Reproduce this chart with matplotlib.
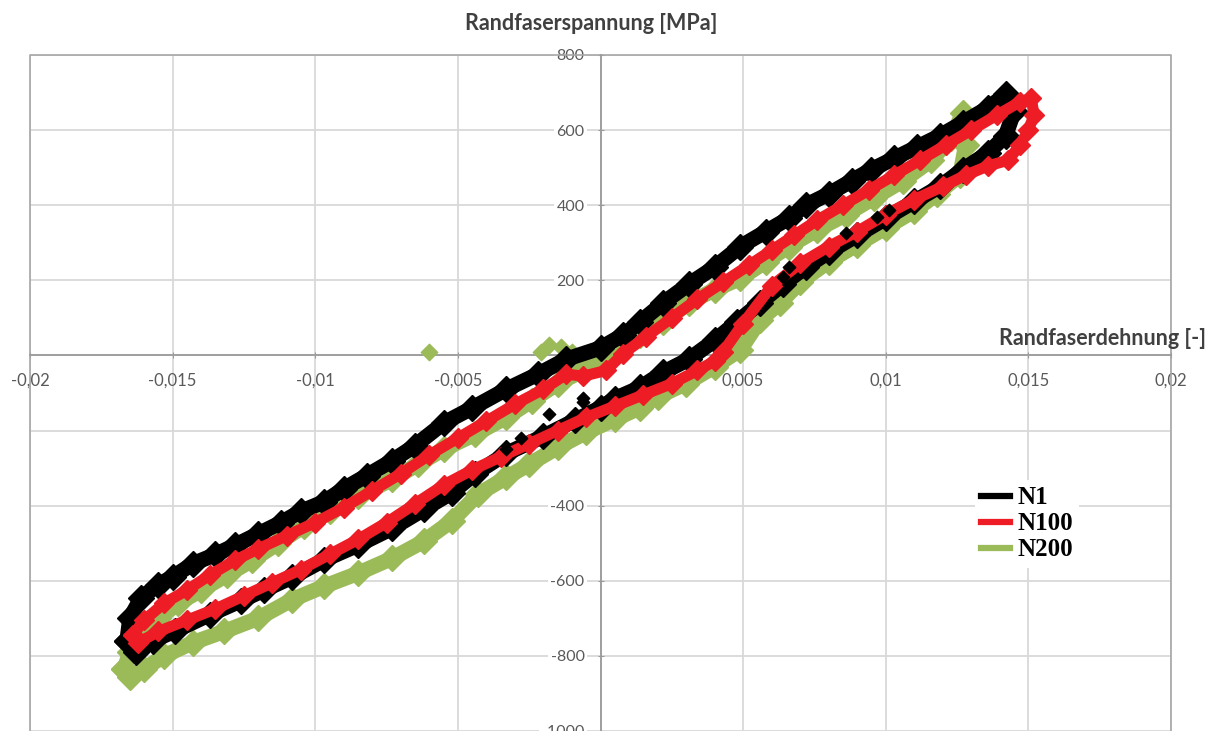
import matplotlib
matplotlib.use("Agg")
import matplotlib.pyplot as plt
from matplotlib.lines import Line2D
from matplotlib.ticker import MultipleLocator, FuncFormatter

plt.rcParams['font.family'] = ['Lato', 'DejaVu Sans']

# ---- data: outer-fibre strain [-] and stress [MPa] around each hysteresis loop ----
series_names = ["N1", "N100", "N200"]
series_colors = ["#000000", "#ee1c25", "#9bbb59"]

n1_strain = [-0.0166, -0.0165, -0.0161, -0.0155, -0.0150, -0.0143, -0.0135, -0.0128, -0.0120,
             -0.0112, -0.0105, -0.0097, -0.0090, -0.0082, -0.0073, -0.0065, -0.0055, -0.0045,
             -0.0033, -0.0022, -0.0012, 0.0000, 0.0008, 0.0014, 0.0022, 0.0031, 0.0040, 0.0049,
             0.0058, 0.0066, 0.0072, 0.0080, 0.0088, 0.0095, 0.0103, 0.0111, 0.0119, 0.0127,
             0.0136, 0.0142, 0.0145, 0.0142, 0.0136, 0.0127, 0.0119, 0.0110, 0.0100, 0.0090,
             0.0080, 0.0072, 0.0064, 0.0056, 0.0048, 0.0040, 0.0031, 0.0022, 0.0014, 0.0005,
             0.0000, -0.0009, -0.0020, -0.0033, -0.0044, -0.0052, -0.0062, -0.0073, -0.0085,
             -0.0097, -0.0108, -0.0118, -0.0126, -0.0137, -0.0149, -0.0157, -0.0163, -0.0166]
n1_stress = [-760, -700, -645, -610, -590, -555, -530, -505, -475,
             -445, -415, -390, -355, -320, -280, -240, -180, -140,
             -90, -50, -10, 20, 55, 90, 140, 190, 235, 290,
             330, 365, 400, 430, 465, 495, 525, 555, 585, 620,
             660, 695, 650, 585, 540, 495, 450, 410, 365, 320,
             275, 235, 190, 140, 90, 40, -10, -45, -85, -115,
             -139, -173, -215, -261, -315, -365, -410, -460, -505,
             -545, -590, -625, -653, -690, -733, -760, -790, -760]

n100_strain = [-0.0164, -0.0160, -0.0153, -0.0145, -0.0137, -0.0128, -0.0120, -0.0110, -0.0100,
               -0.0090, -0.0080, -0.0070, -0.0060, -0.0050, -0.0040, -0.0030, -0.0020, -0.0012,
               -0.0006, 0.0002, 0.0008, 0.0016, 0.0025, 0.0034, 0.0043, 0.0052, 0.0060, 0.0068,
               0.0076, 0.0085, 0.0094, 0.0103, 0.0112, 0.0121, 0.0130, 0.0139, 0.0147, 0.0151,
               0.0152, 0.0150, 0.0147, 0.0143, 0.0136, 0.0128, 0.0120, 0.0110, 0.0100, 0.0090,
               0.0080, 0.0070, 0.0060, 0.0050, 0.0043, 0.0040, 0.0034, 0.0025, 0.0015, 0.0005,
               -0.0005, -0.0015, -0.0025, -0.0035, -0.0045, -0.0055, -0.0065, -0.0075, -0.0085,
               -0.0095, -0.0105, -0.0115, -0.0125, -0.0135, -0.0145, -0.0155, -0.0162, -0.0164]
n100_stress = [-745, -705, -660, -625, -585, -545, -515, -480, -445,
               -405, -360, -315, -265, -220, -175, -130, -90, -50,
               -55, -40, 5, 50, 100, 150, 195, 240, 280, 320,
               360, 400, 440, 480, 520, 560, 600, 640, 675, 685,
               640, 600, 560, 520, 505, 480, 450, 415, 375, 330,
               290, 245, 185, 85, 10, -15, -40, -75, -105, -135,
               -165, -200, -235, -270, -305, -345, -395, -445, -490,
               -530, -570, -605, -640, -675, -705, -735, -765, -745]

n200_strain = [-0.0167, -0.0165, -0.0161, -0.0155, -0.0148, -0.0140, -0.0131, -0.0122, -0.0113,
               -0.0104, -0.0095, -0.0085, -0.0073, -0.0064, -0.0055, -0.0044, -0.0033, -0.0024,
               -0.0015, -0.0006, 0.0004, 0.0014, 0.0022, 0.0031, 0.0040, 0.0049, 0.0058, 0.0066,
               0.0076, 0.0086, 0.0096, 0.0106, 0.0116, 0.0123, 0.0127, 0.0128, 0.0126, 0.0118,
               0.0110, 0.0100, 0.0090, 0.0080, 0.0070, 0.0063, 0.0056, 0.0049, 0.0040,
               0.0030, 0.0020, 0.0014, 0.0005, -0.0005, -0.0015, -0.0025, -0.0033, -0.0043,
               -0.0052, -0.0062, -0.0073, -0.0085, -0.0097, -0.0108, -0.0120, -0.0132, -0.0143,
               -0.0153, -0.0160, -0.0165, -0.0167]
n200_stress = [-835, -790, -740, -700, -660, -625, -585, -545, -500,
               -455, -415, -375, -330, -290, -250, -210, -165, -120,
               -75, -40, 5, 55, 90, 140, 175, 205, 250, 290,
               335, 375, 420, 465, 520, 580, 645, 560, 480, 430,
               385, 340, 295, 250, 195, 140, 95, 15, -30,
               -75, -110, -139, -170, -205, -245, -290, -325, -370,
               -440, -495, -540, -580, -615, -650, -700, -735, -765,
               -800, -835, -855, -835]

# isolated readings lying off the main bands
n1_extra_strain = [-0.0033, -0.0028, -0.0018, -0.0006, -0.0006, 0.0064, 0.0066, 0.0086, 0.0097, 0.0101, 0.0137]
n1_extra_stress = [-248, -221, -155, -112, -125, 208, 235, 325, 368, 387, 555]
n200_extra_strain = [-0.0060, -0.0021, -0.0018, -0.0014, -0.0010]
n200_extra_stress = [8, 10, 28, 22, 8]

x_range = (-0.02, 0.02)
y_range = (-1000, 800)
x_title = "Randfaserdehnung [-]"
y_title = "Randfaserspannung [MPa]"

# ---- figure ----
W, H = 1214, 731
fig = plt.figure(figsize=(W / 100, H / 100), dpi=100)
ax = fig.add_axes([30 / W, 0, 1141 / W, 676 / H])
ax.set_xlim(*x_range)
ax.set_ylim(*y_range)
ax.set_axisbelow(True)

grid_c = "#d9d9d9"
axis_c = "#9a9a9a"
ax.grid(True, color=grid_c, lw=1.3)
ax.xaxis.set_major_locator(MultipleLocator(0.005))
ax.yaxis.set_major_locator(MultipleLocator(200))


def fmt_x(v, pos):
    if abs(v) < 1e-12:
        return ""
    return "{:g}".format(round(v, 6)).replace(".", ",")


def fmt_y(v, pos):
    if abs(v) < 1e-9:
        return ""
    return "{:d}".format(int(round(v)))


ax.xaxis.set_major_formatter(FuncFormatter(fmt_x))
ax.yaxis.set_major_formatter(FuncFormatter(fmt_y))

for side in ("top", "right"):
    ax.spines[side].set_visible(False)
ax.spines["left"].set_position(("data", 0))
ax.spines["bottom"].set_position(("data", 0))
for side in ("left", "bottom"):
    ax.spines[side].set_color(axis_c)
    ax.spines[side].set_linewidth(1.3)

ax.tick_params(axis="x", direction="inout", length=5, color=axis_c, pad=10,
               labelsize=12, labelcolor="#595959")
ax.tick_params(axis="y", direction="inout", length=5, color=axis_c, pad=9,
               labelsize=11.5, labelcolor="#595959")
for lab in ax.get_yticklabels():
    lab.set_bbox(dict(facecolor="white", edgecolor="none", pad=1.5))

# outer plot-area frame (left, top, right)
ax.plot([0, 0, 1, 1], [0, 1, 1, 0], transform=ax.transAxes, color="#a6a6a6",
        lw=1.2, clip_on=False, zorder=1)

# ---- loops: thick bands of diamond markers ----
loops = [(n1_strain, n1_stress), (n100_strain, n100_stress), (n200_strain, n200_stress)]
widths = (11, 8, 11)
for (xs, ys), c, z, w in zip(loops, series_colors, (4, 5, 3), widths):
    ax.plot(xs, ys, color=c, lw=w, solid_joinstyle="round", solid_capstyle="round",
            zorder=z)
    ax.plot(xs, ys, linestyle="none", marker="D", ms=w + 2, mec=c, mfc=c, zorder=z)

ax.scatter(n1_extra_strain, n1_extra_stress, marker="D", s=40, color=series_colors[0], zorder=6)
ax.scatter(n200_extra_strain, n200_extra_stress, marker="D", s=70, color=series_colors[2], zorder=3)

# ---- axis titles ----
fig.text(591 / W, 1 - 24 / H, y_title, ha="center", va="center",
         fontsize=15.5, fontweight="bold", color="#404040")
fig.text(1206 / W, 1 - 338 / H, x_title, ha="right", va="center",
         fontsize=15.5, fontweight="bold", color="#404040")

# ---- legend ----
handles = [Line2D([], [], color=c, lw=4.5) for c in series_colors]
leg = ax.legend(handles, series_names, loc="upper left",
                bbox_to_anchor=(945 / 1141, (731 - 480) / 676), borderaxespad=0,
                frameon=True, facecolor="white", edgecolor="none", framealpha=1,
                handlelength=1.15, handletextpad=0.3, labelspacing=0.12, borderpad=0.25,
                prop={"family": "Liberation Serif", "weight": "bold", "size": 18})
leg.set_zorder(7)

fig.savefig("out.png", dpi=100)
